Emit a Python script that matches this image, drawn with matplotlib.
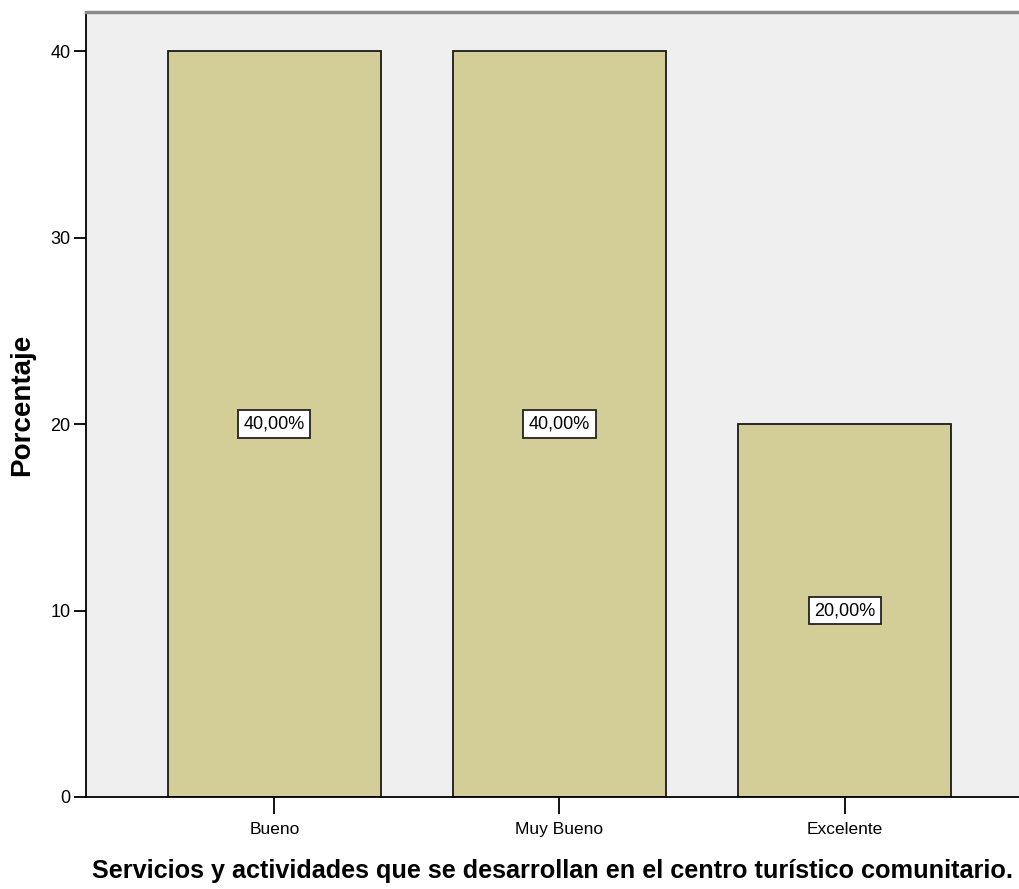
import matplotlib.pyplot as plt
from matplotlib import font_manager

categorias = ['Bueno', 'Muy Bueno', 'Excelente']
porcentajes = [40.0, 40.0, 20.0]
etiquetas = ['40,00%', '40,00%', '20,00%']
ticks_y = [0, 10, 20, 30, 40]

nombres = {f.name for f in font_manager.fontManager.ttflist}
fuente = 'Liberation Sans Narrow' if 'Liberation Sans Narrow' in nombres else 'Liberation Sans'
plt.rcParams['font.family'] = [fuente, 'DejaVu Sans']

fig = plt.figure(figsize=(10.19, 8.89), dpi=100)
ax = fig.add_axes([0.0844, 0.1035, 0.9156, 0.883])
ax.set_facecolor('#efefef')

x = list(range(len(categorias)))
ax.bar(x, porcentajes, width=0.747, color='#d3ce98', edgecolor='#1a1a1a', linewidth=1.3, zorder=2)

# etiqueta de valor en el centro de cada barra
for xi, v, txt in zip(x, porcentajes, etiquetas):
    ax.text(xi, v / 2, txt, ha='center', va='center', fontsize=13, zorder=3,
            bbox=dict(boxstyle='square,pad=0.3', facecolor='white', edgecolor='#222222', linewidth=1.3))

ax.set_xlim(-0.661, 2.612)
ax.set_ylim(0, 42.1)
ax.set_xticks(x)
ax.set_xticklabels(categorias, fontsize=12.5)
ax.set_yticks(ticks_y)
ax.set_yticklabels([str(t) for t in ticks_y], fontsize=13)
ax.tick_params(axis='y', direction='out', length=9, width=1.3, pad=2)
ax.tick_params(axis='x', direction='out', length=12, width=1.3, pad=6)

ax.spines['right'].set_visible(False)
ax.spines['left'].set_linewidth(1.3)
ax.spines['bottom'].set_linewidth(1.3)
ax.spines['top'].set_color('#8a8a8a')
ax.spines['top'].set_linewidth(2.5)

ax.set_ylabel('Porcentaje', fontsize=20, fontweight='bold')
ax.yaxis.set_label_coords(-0.055, 0.5)
ax.set_xlabel('Servicios y actividades que se desarrollan en el centro turístico comunitario.',
              fontsize=18.2, fontweight='bold')
ax.xaxis.set_label_coords(0.5, -0.079)

fig.savefig('out.png', dpi=100)
